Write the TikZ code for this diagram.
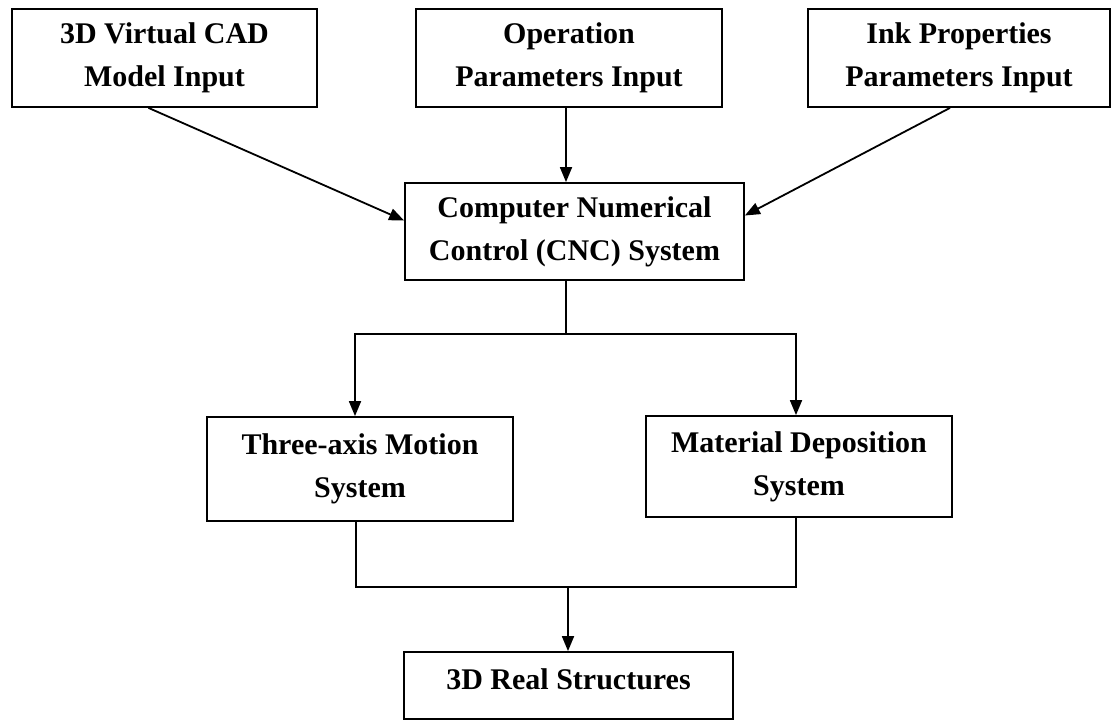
\documentclass[tikz,border=0pt]{standalone}
\usepackage{fontspec}
\setmainfont{Liberation Serif}
\usetikzlibrary{arrows.meta}
\begin{document}
\begin{tikzpicture}[x=1pt,y=-1pt,
  box/.style={draw,line width=1.8pt,align=center,inner sep=0pt,
    font=\fontsize{30}{43}\selectfont\bfseries},
  arr/.style={-{Triangle[length=15pt,width=12pt]},line width=1.8pt}]
\useasboundingbox (0,0) rectangle (1111,721);
% inputs
\node[box,minimum width=305pt,minimum height=98pt] (cad) at (164.5,58) {3D Virtual CAD\\Model Input};
\node[box,minimum width=306pt,minimum height=98pt] (oper) at (569,58) {Operation\\Parameters Input};
\node[box,minimum width=302pt,minimum height=98pt] (ink) at (959,58) {Ink Properties\\Parameters Input};
% controller
\node[box,minimum width=339pt,minimum height=97pt] (cnc) at (574.5,231.5) {Computer Numerical\\Control (CNC) System};
% sub-systems
\node[box,minimum width=306pt,minimum height=104pt] (motion) at (360,469) {Three-axis Motion\\System};
\node[box,minimum width=306pt,minimum height=101pt] (depo) at (799,466.5) {Material Deposition\\System};
% output
\node[box,minimum width=329pt,minimum height=67pt,text depth=12pt] (real) at (568.5,685.5) {3D Real Structures};
\coordinate (fork) at (566,334);
\coordinate (join) at (568,587);
\draw[arr] ([xshift=-16pt]cad.south) -- ([yshift=11pt]cnc.west);
\draw[arr] ([xshift=-3pt]oper.south) -- ([xshift=-3pt]oper.south |- cnc.north);
\draw[arr] ([xshift=-9pt]ink.south) -- ([yshift=16pt]cnc.east);
\draw[line width=1.8pt] ([xshift=-8.5pt]cnc.south) -- (fork);
\draw[arr] (fork) -| ([xshift=-5pt]motion.north);
\draw[arr] (fork) -| ([xshift=-3pt]depo.north);
\draw[line width=1.8pt] ([xshift=-4pt]motion.south) |- (join);
\draw[line width=1.8pt] ([xshift=-3pt]depo.south) |- (join);
\draw[arr] (join) -- (join |- real.north);
\end{tikzpicture}
\end{document}
